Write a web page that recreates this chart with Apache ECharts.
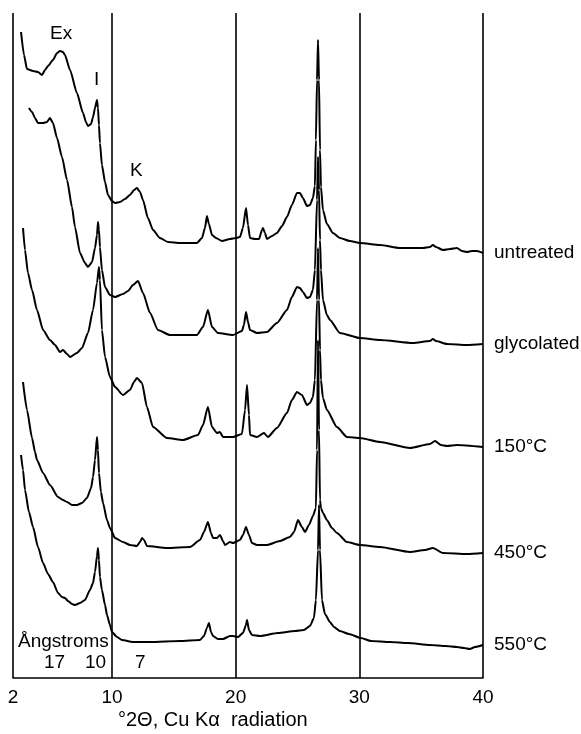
<!DOCTYPE html>
<html>
<head>
<meta charset="utf-8">
<script src="https://cdn.jsdelivr.net/npm/echarts@6/dist/echarts.min.js"></script>
<style>
html,body{margin:0;padding:0;background:#fff;}
#chart{width:581px;height:734px;}
</style>
</head>
<body>
<div id="chart"></div>
<script>
// ---- data: [°2θ, relative intensity] ----
const untreated = [[2.65,221],[2.89,198],[3.13,184],[3.62,182],[4.02,181],[4.34,178],[4.59,183],[4.83,187],[5.23,193],[5.56,200],[5.80,202],[6.04,201],[6.20,198],[6.61,183],[7.17,160],[7.66,140],[7.90,131],[8.06,127],[8.31,129],[8.47,136],[8.63,145],[8.79,153],[8.87,145],[8.95,128],[9.03,110],[9.19,88],[9.44,71],[9.68,58],[10.00,52],[10.25,50],[10.65,51],[11.05,54],[11.46,58],[11.78,63],[12.02,65],[12.27,61],[12.51,53],[12.91,35],[13.32,23],[13.88,15],[14.53,11],[15.50,10],[16.87,10],[17.28,15],[17.52,25],[17.68,37],[17.84,29],[18.09,18],[18.41,15],[18.90,12],[19.54,14],[20.03,15],[20.35,16],[20.59,25],[20.84,45],[21.00,28],[21.16,15],[21.56,14],[21.89,14],[22.13,23],[22.21,25],[22.37,20],[22.53,14],[22.94,17],[23.34,20],[23.75,27],[24.15,36],[24.55,48],[24.96,60],[25.20,60],[25.44,55],[25.77,47],[26.01,48],[26.25,55],[26.41,67],[26.49,113],[26.58,173],[26.66,213],[26.74,173],[26.82,103],[26.90,66],[27.06,43],[27.38,29],[27.87,20],[28.43,15],[29.24,12],[30.05,10],[31.67,8],[33.29,5],[35.14,5],[35.71,6],[35.95,8],[36.20,6],[36.76,3],[37.33,4],[37.89,5],[38.30,2],[38.70,1],[39.11,2],[39.51,2],[40.0,0]];
const glycolated = [[3.29,237],[3.54,233],[3.78,227],[4.02,222],[4.43,222],[4.75,223],[4.99,227],[5.23,222],[5.56,207],[5.96,188],[6.37,165],[6.77,138],[7.01,118],[7.42,92],[7.82,82],[8.06,78],[8.39,83],[8.63,97],[8.79,110],[8.87,123],[8.95,115],[9.03,98],[9.19,75],[9.44,58],[9.84,50],[10.25,48],[10.89,51],[11.30,54],[11.70,60],[12.11,64],[12.51,52],[13.08,32],[13.72,15],[14.69,10],[16.87,10],[17.36,18],[17.76,35],[18.09,18],[18.57,12],[19.79,10],[20.51,14],[20.67,20],[20.84,33],[21.00,23],[21.16,15],[21.73,12],[22.53,13],[23.34,22],[24.15,35],[24.55,48],[24.96,58],[25.20,57],[25.44,53],[25.77,47],[26.01,48],[26.25,55],[26.41,75],[26.58,145],[26.66,188],[26.74,155],[26.82,105],[26.90,75],[27.06,45],[27.38,30],[27.63,25],[28.43,12],[30.05,7],[31.67,5],[34.34,2],[35.71,4],[35.95,6],[36.20,4],[37.09,1],[38.70,0],[40.0,1]];
const heated150 = [[2.81,220],[2.97,198],[3.21,175],[3.54,158],[3.94,138],[4.43,118],[4.99,108],[5.40,103],[5.80,96],[6.04,98],[6.37,94],[6.61,91],[7.17,95],[7.58,100],[8.06,115],[8.47,138],[8.79,165],[8.95,181],[9.03,168],[9.19,118],[9.44,91],[9.84,71],[10.25,61],[10.89,53],[11.46,58],[11.78,66],[12.02,70],[12.43,65],[12.83,41],[13.32,21],[14.45,10],[15.74,8],[16.96,13],[17.36,23],[17.76,41],[18.09,21],[18.49,15],[18.73,16],[18.98,11],[19.79,11],[20.51,14],[20.76,38],[20.92,63],[21.08,33],[21.16,13],[21.73,11],[22.29,15],[22.61,11],[23.34,20],[24.15,35],[24.55,48],[24.96,56],[25.36,53],[25.77,43],[26.01,45],[26.25,51],[26.41,68],[26.58,148],[26.66,200],[26.74,148],[26.82,98],[26.90,68],[27.06,50],[27.38,38],[28.19,21],[29.00,11],[30.05,10],[31.67,6],[34.09,0],[35.71,4],[36.12,7],[36.60,3],[37.09,2],[37.89,3],[40.0,1]];
const heated450 = [[2.81,171],[3.13,143],[3.54,115],[3.78,101],[3.94,93],[4.43,80],[4.99,68],[5.64,56],[6.04,53],[6.37,51],[6.77,48],[7.17,48],[7.58,50],[7.98,55],[8.31,65],[8.47,76],[8.63,93],[8.79,116],[8.87,103],[8.95,80],[9.11,61],[9.28,50],[9.60,33],[9.84,25],[10.25,15],[10.89,11],[11.46,8],[12.02,7],[12.27,11],[12.43,15],[12.59,13],[12.83,7],[14.45,5],[16.31,6],[17.12,13],[17.44,21],[17.76,31],[18.01,20],[18.17,15],[18.49,15],[18.73,18],[18.98,12],[19.14,8],[19.54,11],[19.79,10],[20.35,13],[20.59,18],[20.84,26],[21.08,18],[21.32,10],[21.73,8],[22.53,8],[23.58,12],[24.39,16],[24.72,21],[25.04,33],[25.36,26],[25.61,21],[25.93,28],[26.25,37],[26.49,45],[26.58,103],[26.66,213],[26.74,123],[26.82,53],[26.90,45],[27.06,40],[27.38,33],[27.79,25],[28.19,20],[29.00,11],[30.05,8],[31.67,6],[34.09,1],[35.31,3],[35.95,5],[36.76,0],[38.70,-1],[40.0,0]];
const heated550 = [[2.65,197],[2.81,182],[2.97,162],[3.29,140],[3.62,125],[4.02,105],[4.43,89],[4.83,78],[5.23,70],[5.64,59],[5.96,55],[6.20,54],[6.45,51],[6.77,48],[7.01,47],[7.42,49],[7.82,52],[8.22,62],[8.47,69],[8.63,80],[8.79,96],[8.87,104],[8.95,92],[9.03,75],[9.19,62],[9.44,47],[9.60,37],[9.84,27],[10.00,20],[10.41,15],[10.81,12],[11.70,10],[13.08,10],[15.50,11],[17.12,12],[17.44,16],[17.68,24],[17.84,29],[18.01,20],[18.17,16],[18.57,13],[18.98,13],[19.54,16],[19.79,16],[20.19,15],[20.59,19],[20.84,27],[20.92,32],[21.08,22],[21.32,17],[21.97,16],[23.42,19],[24.80,21],[25.52,22],[26.01,26],[26.33,34],[26.49,52],[26.66,102],[26.74,147],[26.82,102],[26.98,52],[27.22,38],[27.63,30],[27.95,25],[28.43,21],[29.16,18],[30.13,14],[30.94,11],[32.48,10],[33.93,9],[35.71,7],[37.00,6],[37.89,5],[38.46,4],[38.94,3],[39.35,5],[40.0,7]];

const traceNames = ['untreated', 'glycolated', '150°C', '450°C', '550°C'];
const traceData = [untreated, glycolated, heated150, heated450, heated550];
const traceOffsets = [425, 333, 230, 125, 26];   // vertical stacking offsets (intensity units)
const tickValues = [2, 10, 20, 30, 40];
const gridLines = [2, 10, 20, 30, 40];
const peakLabels = ['Ex', 'I', 'K'];
const dSpacingLabels = ['17', '10', '7'];
const xTitle = '°2Θ, Cu Kα  radiation';
const dTitle = 'Ångstroms';

const FONT = '"Liberation Sans", Arial, Helvetica, sans-serif';
const chart = echarts.init(document.getElementById('chart'), null, {renderer: 'canvas'});

const series = traceData.map((d, i) => ({
  name: traceNames[i],
  type: 'line',
  data: d.map(p => [p[0], p[1] + traceOffsets[i]]),
  showSymbol: false,
  symbol: 'none',
  smooth: 0.2,
  smoothMonotone: 'x',
  lineStyle: {color: '#000', width: 2},
  endLabel: {show: true, formatter: '{a}', distance: 11, color: '#000', fontSize: 19, fontFamily: FONT},
  z: 3
}));
series.push({
  type: 'line', data: [], silent: true,
  markLine: {
    silent: true, symbol: ['none', 'none'],
    label: {show: false},
    lineStyle: {color: '#000', width: 1.6, type: 'solid'},
    data: gridLines.map(v => ({xAxis: v}))
  }
});

chart.setOption({
  animation: false,
  backgroundColor: '#fff',
  grid: {left: 13, right: 98, top: 13, bottom: 56},
  xAxis: {
    type: 'value', min: 2, max: 40,
    axisLine: {show: true, lineStyle: {color: '#000', width: 1.6}},
    axisTick: {show: false},
    splitLine: {show: false},
    axisLabel: {customValues: tickValues, color: '#000', fontSize: 19, fontFamily: FONT, margin: 10}
  },
  yAxis: {type: 'value', min: 0, max: 665, show: false},
  series: series,
  graphic: [
    {type: 'text', left: 50, top: 24, style: {text: peakLabels[0], fontSize: 19, fontFamily: FONT, fill: '#000'}},
    {type: 'text', left: 94, top: 70, style: {text: peakLabels[1], fontSize: 19, fontFamily: FONT, fill: '#000'}},
    {type: 'text', left: 130, top: 161, style: {text: peakLabels[2], fontSize: 19, fontFamily: FONT, fill: '#000'}},
    {type: 'text', left: 18, top: 632, style: {text: dTitle, fontSize: 19, fontFamily: FONT, fill: '#000'}},
    {type: 'text', left: 44, top: 653, style: {text: dSpacingLabels[0], fontSize: 19, fontFamily: FONT, fill: '#000'}},
    {type: 'text', left: 85, top: 653, style: {text: dSpacingLabels[1], fontSize: 19, fontFamily: FONT, fill: '#000'}},
    {type: 'text', left: 135, top: 653, style: {text: dSpacingLabels[2], fontSize: 19, fontFamily: FONT, fill: '#000'}},
    {type: 'text', left: 118, top: 710, style: {text: xTitle, fontSize: 20, fontFamily: FONT, fill: '#000'}}
  ]
});
</script>
</body>
</html>
